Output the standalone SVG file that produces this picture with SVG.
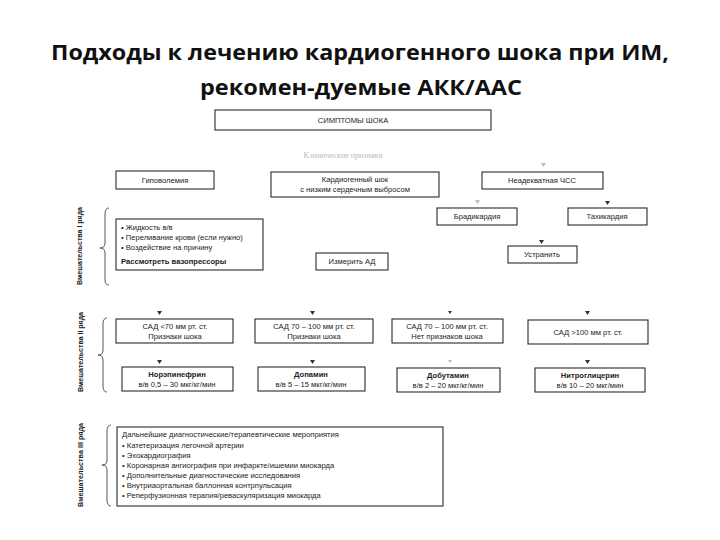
<svg xmlns="http://www.w3.org/2000/svg" width="720" height="540" viewBox="0 0 720 540">
<style>
.title{font-family:"Open Sans","Noto Sans","Liberation Sans",sans-serif;font-weight:bold;font-size:22px;fill:#111;text-anchor:middle}
.box{fill:#fff;stroke:#2a2a2a;stroke-width:1.1}
.t{font-family:"Liberation Sans","DejaVu Sans",sans-serif;font-size:7.6px;fill:#222;text-anchor:middle}
.tl{font-family:"Liberation Sans","DejaVu Sans",sans-serif;font-size:7.6px;fill:#222}
.b{font-weight:bold}
.faint{font-family:"Liberation Serif",serif;font-size:8px;fill:#bbb;text-anchor:middle}
.vl{font-family:"Liberation Sans","DejaVu Sans",sans-serif;font-size:8px;font-weight:bold;fill:#222;text-anchor:middle}
.brace{fill:none;stroke:#444;stroke-width:0.9}
.arr{fill:#333}
.arrf{fill:#bbb}
</style>
<rect width="720" height="540" fill="#fff"/>
<g id="title">
<text class="title" x="360" y="60" textLength="618" lengthAdjust="spacingAndGlyphs">Подходы к лечению кардиогенного шока при ИМ,</text>
<text class="title" x="361" y="95" textLength="322" lengthAdjust="spacingAndGlyphs">рекомен-дуемые АКК/ААС</text>
</g>
<g id="connectors">
<polygon class="arrf" points="541,163 546,163 543.5,167"/>
<polygon class="arrf" points="475,200 480,200 477.5,204"/>
<polygon class="arr" points="605,201 610,201 607.5,205"/>
<polygon class="arr" points="539,240 544,240 541.5,244"/>
<polygon class="arr" points="157,311 162,311 159.5,315"/>
<polygon class="arr" points="310,311 315,311 312.5,315"/>
<polygon class="arr" points="448,311 452,311 450,314"/>
<polygon class="arr" points="585,311 590,311 587.5,315"/>
<polygon class="arr" points="157,360 162,360 159.5,364"/>
<polygon class="arr" points="310,360 315,360 312.5,364"/>
<polygon class="arrf" points="448,360 452,360 450,363"/>
<polygon class="arr" points="585,360 590,360 587.5,364"/>
</g>
<g id="symptoms"><rect class="box" x="215" y="110" width="276" height="20"/><text class="t" x="353" y="123">СИМПТОМЫ ШОКА</text></g>
<g id="clinical"><text class="faint" x="343" y="158">Клинические признаки</text></g>
<g id="hypovolemia"><rect class="box" x="116" y="171" width="98" height="18"/><text class="t" x="165" y="183">Гиповолемия</text></g>
<g id="cardiogenic"><rect class="box" x="271" y="172" width="168" height="25"/><text class="t" x="355" y="182">Кардиогенный шок</text><text class="t" x="355" y="192">с низким сердечным выбросом</text></g>
<g id="hr"><rect class="box" x="482" y="172" width="121" height="17"/><text class="t" x="542" y="183">Неадекватная ЧСС</text></g>
<g id="brady"><rect class="box" x="437" y="208" width="80" height="17"/><text class="t" x="477" y="219">Брадикардия</text></g>
<g id="tachy"><rect class="box" x="568" y="208" width="79" height="17"/><text class="t" x="607" y="219">Тахикардия</text></g>
<g id="eliminate"><rect class="box" x="508" y="246" width="69" height="17"/><text class="t" x="542" y="257">Устранить</text></g>
<g id="tier1">
<text class="vl" transform="translate(82,246) rotate(-90)" textLength="78" lengthAdjust="spacingAndGlyphs">Вмешательства I ряда</text>
<path class="brace" d="M109,208 Q105,208 105,214 L105,243 Q105,248 100,248 Q105,248 105,253 L105,280 Q105,285 109,285"/>
</g>
<g id="tier1box"><rect class="box" x="116" y="219" width="147" height="51"/>
<text class="tl" x="121" y="230">• Жидкость в/в</text>
<text class="tl" x="121" y="240">• Переливание крови (если нужно)</text>
<text class="tl" x="121" y="250">• Воздействие на причину</text>
<text class="tl b" x="121" y="264">Рассмотреть вазопрессоры</text></g>
<g id="measure"><rect class="box" x="316" y="253" width="72" height="17"/><text class="t" x="352" y="264">Измерить АД</text></g>
<g id="tier2">
<text class="vl" transform="translate(83,352) rotate(-90)" textLength="80" lengthAdjust="spacingAndGlyphs">Вмешательства II ряда</text>
<path class="brace" d="M107,318 Q103,318 103,324 L103,350 Q103,355 98,355 Q103,355 103,360 L103,386 Q103,392 107,392"/>
</g>
<g id="sbp1"><rect class="box" x="116" y="319" width="117" height="24"/><text class="t" x="175" y="329">САД &lt;70 мм рт. ст.</text><text class="t" x="175" y="339">Признаки шока</text></g>
<g id="sbp2"><rect class="box" x="255" y="319" width="118" height="24"/><text class="t" x="314" y="329">САД 70 – 100 мм рт. ст.</text><text class="t" x="314" y="339">Признаки шока</text></g>
<g id="sbp3"><rect class="box" x="392" y="319" width="111" height="24"/><text class="t" x="447" y="329">САД 70 – 100 мм рт. ст.</text><text class="t" x="447" y="339">Нет признаков шока</text></g>
<g id="sbp4"><rect class="box" x="528" y="320" width="120" height="24"/><text class="t" x="588" y="335">САД &gt;100 мм рт. ст.</text></g>
<g id="norepi"><rect class="box" x="122" y="367" width="111" height="24"/><text class="t b" x="177" y="377">Норэпинефрин</text><text class="t" x="177" y="387">в/в 0,5 – 30 мкг/кг/мин</text></g>
<g id="dopamine"><rect class="box" x="258" y="367" width="107" height="24"/><text class="t b" x="311" y="377">Допамин</text><text class="t" x="311" y="387">в/в 5 – 15 мкг/кг/мин</text></g>
<g id="dobutamine"><rect class="box" x="397" y="368" width="103" height="24"/><text class="t b" x="448" y="378">Добутамин</text><text class="t" x="448" y="388">в/в 2 – 20 мкг/кг/мин</text></g>
<g id="nitro"><rect class="box" x="535" y="368" width="110" height="24"/><text class="t b" x="590" y="378">Нитроглицерин</text><text class="t" x="590" y="388">в/в 10 – 20 мкг/мин</text></g>
<g id="tier3">
<text class="vl" transform="translate(83,465) rotate(-90)" textLength="84" lengthAdjust="spacingAndGlyphs">Вмешательства III ряда</text>
<path class="brace" d="M111,425 Q107,425 107,431 L107,460 Q107,465 102,465 Q107,465 107,470 L107,500 Q107,506 111,506"/>
</g>
<g id="tier3box"><rect class="box" x="117" y="427" width="326" height="79"/>
<text class="tl" x="122" y="437">Дальнейшие диагностические/терапевтические мероприятия</text>
<text class="tl" x="122" y="448">• Катетеризация легочной артерии</text>
<text class="tl" x="122" y="458">• Эхокардиография</text>
<text class="tl" x="122" y="468">• Коронарная ангиография при инфаркте/ишемии миокарда</text>
<text class="tl" x="122" y="478">• Дополнительные диагностические исследования</text>
<text class="tl" x="122" y="488">• Внутриаортальная баллонная контрпульсация</text>
<text class="tl" x="122" y="498">• Реперфузионная терапия/реваскуляризация миокарда</text></g>
</svg>
